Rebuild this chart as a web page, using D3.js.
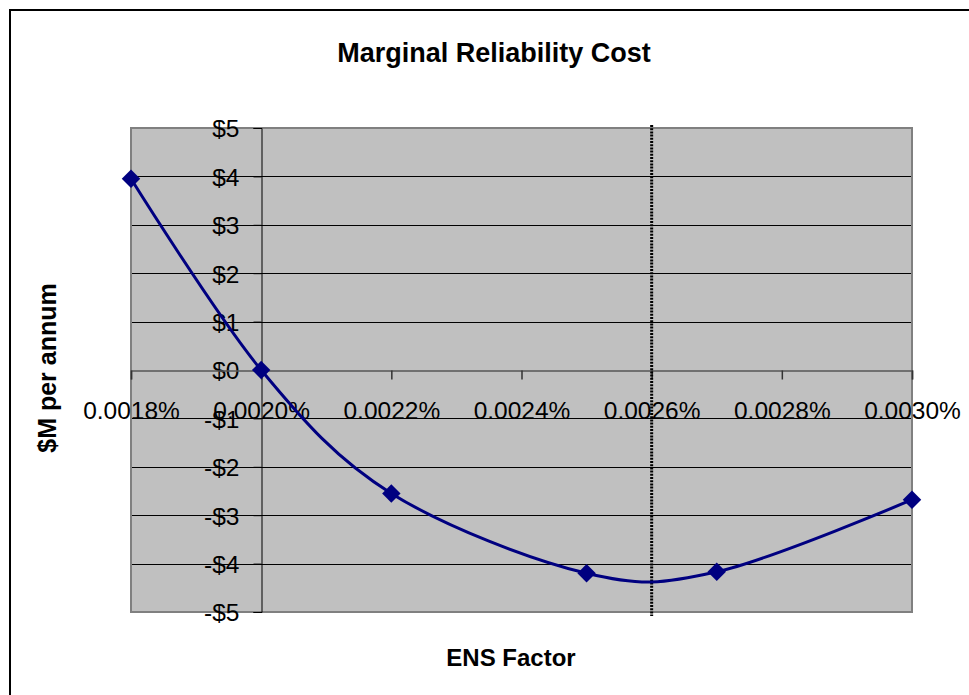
<!DOCTYPE html>
<html>
<head>
<meta charset="utf-8">
<script src="https://cdn.jsdelivr.net/npm/d3@7"></script>
<style>
  body { margin: 0; background: #fff; }
  svg { display: block; font-family: "Liberation Sans", Arial, sans-serif; }
</style>
</head>
<body>
<svg id="chart" width="969" height="695"></svg>
<script>
// ---- data (ENS factor in %, cost in $M per annum) ----
const ensFactor = [0.0018, 0.0020, 0.0022, 0.0025, 0.0027, 0.0030];
const costM = [3.95, 0.0, -2.55, -4.2, -4.17, -2.68];
const xTickValues = [0.0018, 0.0020, 0.0022, 0.0024, 0.0026, 0.0028, 0.0030];
const yTickValues = [-5, -4, -3, -2, -1, 0, 1, 2, 3, 4, 5];
const markerLineX = [0.0026];
const titleText = "Marginal Reliability Cost";
const xTitle = "ENS Factor";
const yTitle = "$M per annum";

const svg = d3.select("#chart");
const W = 969, H = 695;
const plot = { left: 131, right: 912, top: 128, bottom: 612 };

svg.append("rect").attr("width", W).attr("height", H).attr("fill", "#fff");
// outer chart border (extends beyond the picture on right/bottom)
svg.append("rect").attr("x", 10).attr("y", 10).attr("width", 1000).attr("height", 1000)
  .attr("fill", "none").attr("stroke", "#000").attr("stroke-width", 2);

const x = d3.scaleLinear().domain([0.0018, 0.0030]).range([plot.left, plot.right]);
const y = d3.scaleLinear().domain([-5, 5]).range([plot.bottom, plot.top]);

// plot area
svg.append("rect")
  .attr("x", plot.left).attr("y", plot.top)
  .attr("width", plot.right - plot.left).attr("height", plot.bottom - plot.top)
  .attr("fill", "#c0c0c0");

// horizontal gridlines
svg.append("g").selectAll("line").data(yTickValues.filter(v => v !== 0 && v !== 5 && v !== -5)).join("line")
  .attr("x1", plot.left).attr("x2", plot.right)
  .attr("y1", d => Math.round(y(d)) + 0.5).attr("y2", d => Math.round(y(d)) + 0.5)
  .attr("stroke", "#000").attr("stroke-width", 1);

// plot border
svg.append("rect")
  .attr("x", plot.left).attr("y", plot.top)
  .attr("width", plot.right - plot.left).attr("height", plot.bottom - plot.top)
  .attr("fill", "none").attr("stroke", "#808080").attr("stroke-width", 2);

// y axis at x = 0.0020
const yAxisX = Math.round(x(0.0020)) + 0.5;
const yAxis = d3.axisLeft(y).tickValues(yTickValues).tickSize(8)
  .tickFormat(v => (v < 0 ? "-$" : "$") + Math.abs(v));
const gy = svg.append("g").attr("transform", `translate(${yAxisX},0)`).call(yAxis);
gy.select(".domain").attr("stroke", "#000").attr("stroke-width", 1);
gy.selectAll(".tick line").attr("stroke", "#000");
gy.selectAll(".tick text")
  .attr("x", -22).attr("dy", "0.36em")
  .attr("font-size", 24.5).attr("font-family", "Liberation Sans, Arial, sans-serif")
  .attr("fill", "#000");

// x axis at y = 0
const xAxisY = Math.round(y(0)) + 0.5;
const xAxis = d3.axisBottom(x).tickValues(xTickValues).tickSize(9)
  .tickFormat(v => d3.format(".4f")(v) + "%");
const gx = svg.append("g").attr("transform", `translate(0,${xAxisY})`).call(xAxis);
gx.select(".domain").attr("stroke", "#555").attr("stroke-width", 1.5);
gx.selectAll(".tick line").attr("stroke", "#333").attr("stroke-width", 1.5);
gx.selectAll(".tick text")
  .attr("y", 48).attr("dy", 0)
  .attr("font-size", 24.5).attr("font-family", "Liberation Sans, Arial, sans-serif")
  .attr("fill", "#000");

// vertical dotted marker line
svg.append("g").selectAll("line").data(markerLineX).join("line")
  .attr("x1", d => x(d)).attr("x2", d => x(d))
  .attr("y1", plot.top - 3).attr("y2", plot.bottom + 4)
  .attr("stroke", "#000").attr("stroke-width", 3)
  .attr("stroke-dasharray", "2,1.2");

// series
const pts = ensFactor.map((d, i) => [d, costM[i]]);
const line = d3.line().x(d => x(d[0])).y(d => y(d[1])).curve(d3.curveCardinal.tension(0));
svg.append("path").datum(pts)
  .attr("d", line).attr("fill", "none")
  .attr("stroke", "#000080").attr("stroke-width", 3).attr("stroke-linejoin", "round");

const diamond = d3.symbol().type(d3.symbolSquare).size(170);
svg.append("g").selectAll("path").data(pts).join("path")
  .attr("d", diamond)
  .attr("transform", d => `translate(${x(d[0])},${y(d[1])}) rotate(45)`)
  .attr("fill", "#000080");

// titles
svg.append("text").attr("x", 494).attr("y", 62).attr("text-anchor", "middle")
  .attr("font-size", 27).attr("font-weight", "bold").text(titleText);
svg.append("text").attr("x", 511).attr("y", 666).attr("text-anchor", "middle")
  .attr("font-size", 24).attr("font-weight", "bold").text(xTitle);
svg.append("text").attr("transform", "translate(56,368) rotate(-90)").attr("text-anchor", "middle")
  .attr("font-size", 25).attr("font-weight", "bold").text(yTitle);
</script>
</body>
</html>
